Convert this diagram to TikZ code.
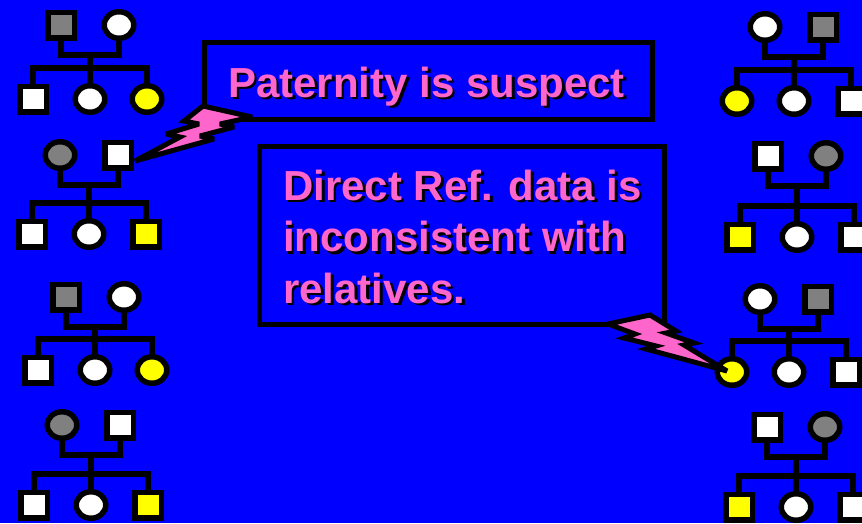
\documentclass[tikz,border=0pt]{standalone}
\usepackage{fontspec}
\setmainfont{Liberation Sans}
\usetikzlibrary{shapes.geometric}
\definecolor{slide}{HTML}{0000FF}
\definecolor{hot}{HTML}{FF66CC}
\definecolor{mid}{HTML}{808080}
\definecolor{flag}{HTML}{FFFF00}

\tikzset{
  sym/.style={draw=black, line width=5.5pt, inner sep=0pt, outer sep=0pt},
  msym/.style={sym, rectangle, minimum width=26.5pt, minimum height=25.5pt},
  fsym/.style={sym, ellipse, minimum width=29.5pt, minimum height=26.5pt},
  mW/.style={msym, fill=white},
  mG/.style={msym, fill=mid},
  mY/.style={msym, fill=flag},
  fW/.style={fsym, fill=white},
  fG/.style={fsym, fill=mid},
  fY/.style={fsym, fill=flag},
  link/.style={draw=black, line width=5.5pt, line join=miter},
  bolt/.style={draw=black, line width=5pt, fill=hot, line join=miter, miter limit=4},
  notebox/.style={draw=black, line width=5pt, fill=slide, inner sep=0pt},
  note/.style={font=\bfseries\fontsize{42}{51.5}\selectfont, text=hot, inner sep=0pt, align=left},
  noteshade/.style={note, text=black}
}

% one nuclear family: #1 prefix, #2 first parent centre, #3 drop to children,
% #4/#5 parent symbols, #6/#7/#8 children symbols
\newcommand\kindred[8]{%
  \begin{scope}[shift={#2}]
    \node[#4] (#1f) at (0,0) {};
    \node[#5] (#1m) at (58,0) {};
    \node[#6] (#1a) at (-28,#3) {};
    \node[#7] (#1b) at (29,#3) {};
    \node[#8] (#1c) at (86,#3) {};
    \coordinate (#1u) at (29,30);
    \coordinate (#1s) at (29,#3-31);
  \end{scope}
  \draw[link] (#1f.south) |- (#1u) -| (#1m.south);
  \draw[link] (#1a.north) |- (#1s) -| (#1c.north);
  \draw[link] (#1u) -- (#1b.north);
}

\begin{document}
\begin{tikzpicture}[x=1pt, y=-1pt]
  \fill[slide] (0,0) rectangle (862,523);
  \useasboundingbox (0,0) rectangle (862,523);

  % left column of families
  \kindred{L1}{(61,25)}{74}{mG}{fW}{mW}{fW}{fY}
  \kindred{L2}{(60,155)}{79}{fG}{mW}{mW}{fW}{mY}
  \kindred{L3}{(66,297)}{73}{mG}{fW}{mW}{fW}{fY}
  \kindred{L4}{(62,425)}{80}{fG}{mW}{mW}{fW}{mY}

  % right column of families
  \kindred{R1}{(765,27)}{74}{fW}{mG}{fY}{fW}{mW}
  \kindred{R2}{(768,156)}{81}{mW}{fG}{mY}{fW}{mW}
  \kindred{R3}{(760,299)}{73}{fW}{mG}{fY}{fW}{mW}
  \kindred{R4}{(767,427)}{80}{mW}{fG}{mY}{fW}{mW}

  % callout boxes
  \node[notebox, minimum width=448pt, minimum height=77pt] (box1) at (428,80.5) {};
  \node[notebox, minimum width=405pt, minimum height=178pt] (box2) at (461.5,235) {};

  % lightning tails
  \draw[bolt] (203,106) -- (184,121) -- (199,124) -- (166,134) -- (180,137)
    -- (135,161) -- (214,139) -- (200,136) -- (234,127) -- (220,124)
    -- (252,117) -- cycle;
  \draw[bolt] (608,324) -- (650,315) -- (676,331) -- (666,333) -- (694,343)
    -- (684,345) -- (727,371) -- (646,349) -- (656,346) -- (624,338)
    -- (635,334) -- cycle;

  % callout texts with drop shadow
  \node[noteshade, anchor=base west] (t1s) at (230.5,99.5) {Paternity is suspect};
  \node[note, anchor=base west] (t1) at (228,97) {Paternity is suspect};
  \node[noteshade, anchor=base west] (t2s) at (285.5,305.5)
    {Direct Ref. data is\\inconsistent with\\relatives.};
  \node[note, anchor=base west] (t2) at (283,303)
    {Direct Ref. data is\\inconsistent with\\relatives.};
\end{tikzpicture}
\end{document}
